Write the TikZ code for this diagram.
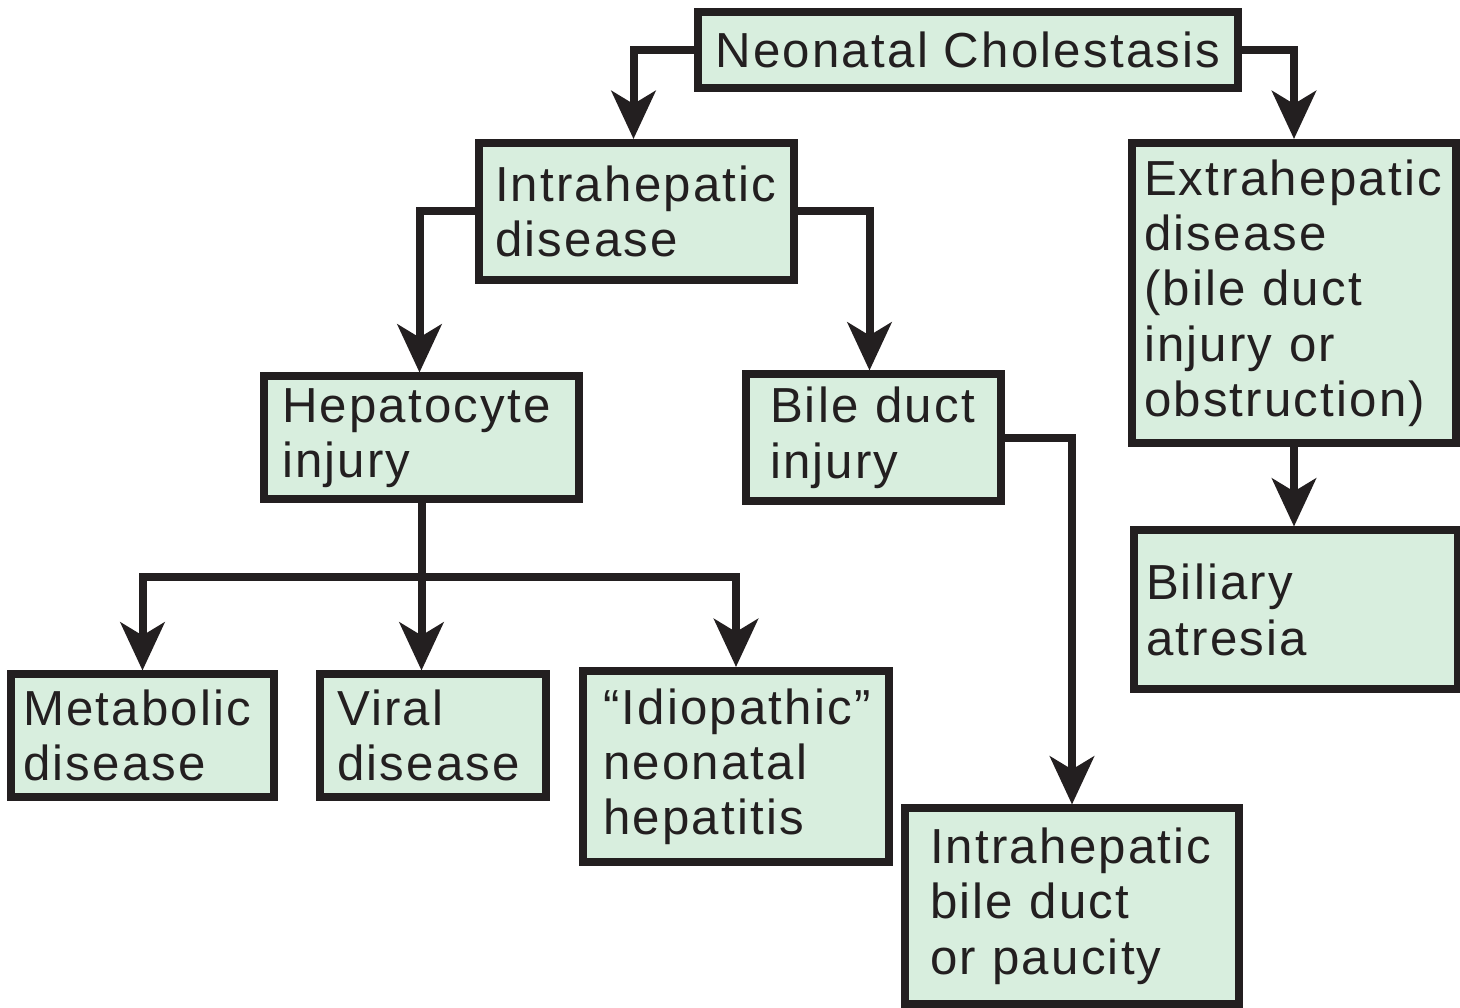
\documentclass[tikz,border=0pt]{standalone}
\usepackage{fontspec}
\setmainfont{Liberation Sans}[LetterSpace=4.5]
\usepackage{xcolor}
\definecolor{boxfill}{RGB}{216,238,222}
\definecolor{boxline}{RGB}{35,31,32}
\usepackage{tikz}
\usetikzlibrary{arrows.meta}
\newcommand{\borderwidth}{0.08cm}
\tikzset{
    box/.style={draw=boxline, fill=boxfill, line width=\borderwidth, text=boxline, align=left,
        inner ysep=0pt, font=\fontsize{14pt}{15.7pt}\selectfont},
    size/.style 2 args={minimum width=#1, minimum height=#2},
    link/.style={draw=boxline, line width=\borderwidth, line join=miter,
        -{Stealth[length=0.48cm, width=0.44cm, inset=0.13cm]}}
}
\begin{document}
\begin{tikzpicture}
    \useasboundingbox (0,0) rectangle (14.6,-10.08);

    \node[box, size={5.40cm}{0.755cm}] (neo) at (9.68,-0.5025) {Neonatal~Cholestasis};
    \node[box, size={3.15cm}{1.37cm}, text width=2.83cm] (intra) at (6.365,-2.115) {Intrahepatic\\disease};
    \node[box, size={3.24cm}{3.005cm}, text width=3.00cm] (extra) at (12.94,-2.9325)
        {Extrahepatic\\disease\\(bile~duct\\injury~or\\obstruction)};
    \node[box, size={3.15cm}{1.23cm}, text width=2.79cm] (hepa) at (4.215,-4.38) {Hepatocyte\\injury};
    \node[box, size={2.55cm}{1.265cm}, text width=2.07cm] (bile) at (8.735,-4.3775) {Bile~duct\\injury};
    \node[box, size={3.20cm}{1.59cm}, text width=3.00cm] (atresia) at (12.96,-6.10) {Biliary\\atresia};
    \node[box, size={2.59cm}{1.225cm}, text width=2.39cm] (meta) at (1.425,-7.3575) {Metabolic\\disease};
    \node[box, size={2.26cm}{1.225cm}, text width=1.92cm] (viral) at (4.33,-7.3575) {Viral\\disease};
    \node[box, size={3.06cm}{1.91cm}, text width=2.66cm] (idio) at (7.36,-7.665)
        {“Idiopathic”\\neonatal\\hepatitis};
    \node[box, size={3.34cm}{1.955cm}, text width=2.84cm] (ihbd) at (10.72,-9.0625)
        {Intrahepatic\\bile~duct\\or~paucity};

    \coordinate (fork) at (hepa.south |- 0,-5.77);

    \draw[link] (neo.west) -| ([xshift=-0.03cm]intra.north);
    \draw[link] (neo.east) -| (extra.north);
    \draw[link] (intra.west) -| ([xshift=-0.02cm]hepa.north);
    \draw[link] (intra.east) -| ([xshift=-0.04cm]bile.north);
    \draw[link] (bile.east) -| (ihbd.north);
    \draw[link] (extra.south) -- (extra.south |- atresia.north);
    \draw[link] (hepa.south) -- (hepa.south |- viral.north);
    \draw[link] (fork) -| (meta.north);
    \draw[link] (fork) -| (idio.north);
\end{tikzpicture}
\end{document}
